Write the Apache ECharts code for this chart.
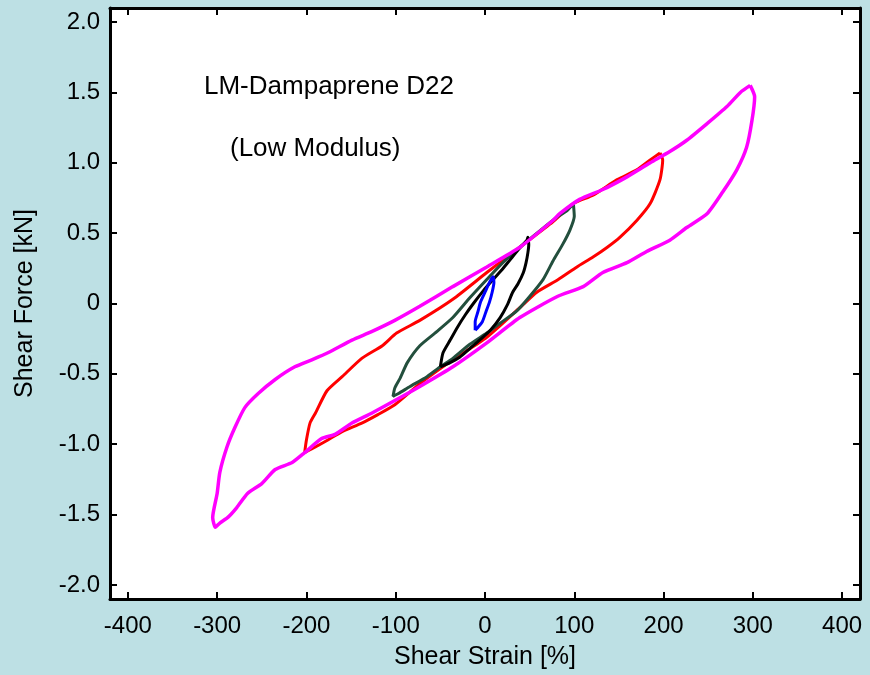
<!DOCTYPE html>
<html>
<head>
<meta charset="utf-8">
<script src="https://cdn.jsdelivr.net/npm/echarts@6/dist/echarts.min.js"></script>
<style>
html,body{margin:0;padding:0;background:#bde0e4;}
#chart{width:870px;height:675px;}
</style>
</head>
<body>
<div id="chart"></div>
<script>
// Tick values
const xTicks = [-400, -300, -200, -100, 0, 100, 200, 300, 400];
const yTicks = [-2.0, -1.5, -1.0, -0.5, 0, 0.5, 1.0, 1.5, 2.0];

// ±300% loop (magenta)
const magentaStrain = [297,302,299,293,282,266,249,226,207,181,159,132,110,81,39,2,-36,-73,-101,-127,-149,-168,-183,-202,-216,-235,-250,-266,-278,-288,-297,-302,
  -305,-300,-297,-289,-280,-269,-254,-235,-213,-194,-176,-149,-127,-101,-73,-36,2,39,76,84,106,132,159,185,207,226,249,271,286,297];
const magentaForce = [1.55,1.47,1.30,1.11,0.95,0.79,0.64,0.54,0.45,0.37,0.29,0.22,0.12,0.05,-0.10,-0.28,-0.45,-0.59,-0.69,-0.78,-0.85,-0.93,-0.96,-1.06,-1.13,-1.18,-1.28,-1.35,-1.45,-1.52,-1.56,-1.59,
  -1.52,-1.35,-1.20,-1.02,-0.88,-0.74,-0.64,-0.54,-0.45,-0.40,-0.35,-0.26,-0.20,-0.12,-0.02,0.12,0.26,0.40,0.59,0.64,0.74,0.81,0.90,1.00,1.08,1.16,1.28,1.40,1.50,1.55];

// ±200% loop (red)
const redStrain = [196,199,196,185,170,151,137,121,103,82,58,39,2,-36,-73,-101,-120,-138,-160,-176,-190,-202,
  -200,-196,-190,-177,-160,-138,-115,-99,-73,-36,2,39,76,99,121,148,170,185,196];
const redForce = [1.07,1.02,0.88,0.71,0.59,0.47,0.40,0.33,0.26,0.17,0.08,-0.03,-0.24,-0.40,-0.57,-0.72,-0.79,-0.85,-0.91,-0.97,-1.02,-1.06,
  -0.97,-0.85,-0.78,-0.62,-0.52,-0.39,-0.30,-0.21,-0.12,0.03,0.22,0.40,0.58,0.71,0.77,0.88,0.95,1.02,1.07];

// ±100% loop (dark green)
const greenStrain = [99,100,95,87,76,65,50,36,17,2,-17,-36,-50,-65,-84,-97,-103,
  -101,-95,-87,-73,-54,-36,-17,2,20,39,62,82,92,99];
const greenForce = [0.71,0.62,0.52,0.42,0.30,0.17,0.05,-0.05,-0.14,-0.21,-0.29,-0.39,-0.45,-0.52,-0.59,-0.64,-0.66,
  -0.60,-0.53,-0.42,-0.30,-0.20,-0.10,0.04,0.17,0.29,0.40,0.52,0.62,0.66,0.71];

// ±50% loop (black)
const blackStrain = [-50,-47,-39,-31,-22,-13,-2,9,19,28,37,47,48,
  49,48,46,43,37,31,25,17,6,-6,-17,-28,-39,-50];
const blackForce = [-0.45,-0.35,-0.26,-0.17,-0.08,0.00,0.09,0.17,0.24,0.31,0.38,0.45,0.47,
  0.42,0.36,0.29,0.22,0.14,0.08,-0.01,-0.10,-0.19,-0.26,-0.32,-0.38,-0.42,-0.45];

// ±10% loop (blue)
const blueStrain = [-11,-11,-8,-5,0,5,9,10,8,5,1,-3,-8,-11];
const blueForce = [-0.19,-0.13,-0.06,0.01,0.08,0.15,0.19,0.15,0.08,0.01,-0.06,-0.13,-0.17,-0.19];

function zip(a, b) { return a.map((v, i) => [v, b[i]]); }

const FONT = "'Liberation Sans', Arial, sans-serif";
const chart = echarts.init(document.getElementById('chart'), null, {renderer: 'canvas'});

function xAx(pos, show) {
  return {
    type: 'value', position: pos, min: -420, max: 420,
    axisLine: {show: true, onZero: false, lineStyle: {color: '#000', width: 3}},
    axisTick: {show: true, inside: true, length: 7, customValues: xTicks, lineStyle: {color: '#000', width: 2}},
    axisLabel: {show: show, customValues: xTicks, margin: 15, color: '#000', fontSize: 24, fontFamily: FONT},
    splitLine: {show: false},
    name: show ? 'Shear Strain [%]' : '',
    nameLocation: 'middle', nameGap: 46,
    nameTextStyle: {color: '#000', fontSize: 25, fontFamily: FONT}
  };
}
function yAx(pos, show) {
  return {
    type: 'value', position: pos, min: -2.1, max: 2.1,
    axisLine: {show: true, onZero: false, lineStyle: {color: '#000', width: 3}},
    axisTick: {show: true, inside: true, length: 7, customValues: yTicks, lineStyle: {color: '#000', width: 2}},
    axisLabel: {show: show, customValues: yTicks, margin: 10, color: '#000', fontSize: 24, fontFamily: FONT,
      formatter: v => (Math.abs(v) < 1e-9 ? '0' : v.toFixed(1))},
    splitLine: {show: false},
    name: show ? 'Shear Force [kN]' : '',
    nameLocation: 'middle', nameGap: 72,
    nameTextStyle: {color: '#000', fontSize: 25, fontFamily: FONT}
  };
}

function loop(name, sx, sy, color, w) {
  return {
    name: name, type: 'line', xAxisIndex: 0, yAxisIndex: 0,
    data: zip(sx, sy), showSymbol: false, symbol: 'none', smooth: 0.2,
    lineStyle: {color: color, width: w}, animation: false
  };
}

chart.setOption({
  backgroundColor: '#bde0e4',
  animation: false,
  grid: {left: 110, right: 10, top: 8, bottom: 76, show: true, backgroundColor: '#fff', borderWidth: 0},
  xAxis: [xAx('bottom', true), xAx('top', false)],
  yAxis: [yAx('left', true), yAx('right', false)],
  graphic: [
    {type: 'text', left: 204, top: 74, style: {text: 'LM-Dampaprene D22', fill: '#000', font: '26px ' + FONT}},
    {type: 'text', left: 230, top: 136, style: {text: '(Low Modulus)', fill: '#000', font: '26px ' + FONT}}
  ],
  series: [
    loop('±200%', redStrain, redForce, '#ff0000', 3),
    loop('±100%', greenStrain, greenForce, '#234f3d', 3),
    loop('±50%', blackStrain, blackForce, '#000000', 3),
    loop('±300%', magentaStrain, magentaForce, '#ff00ff', 3.5),
    loop('±10%', blueStrain, blueForce, '#0000ff', 3)
  ]
});
</script>
</body>
</html>
